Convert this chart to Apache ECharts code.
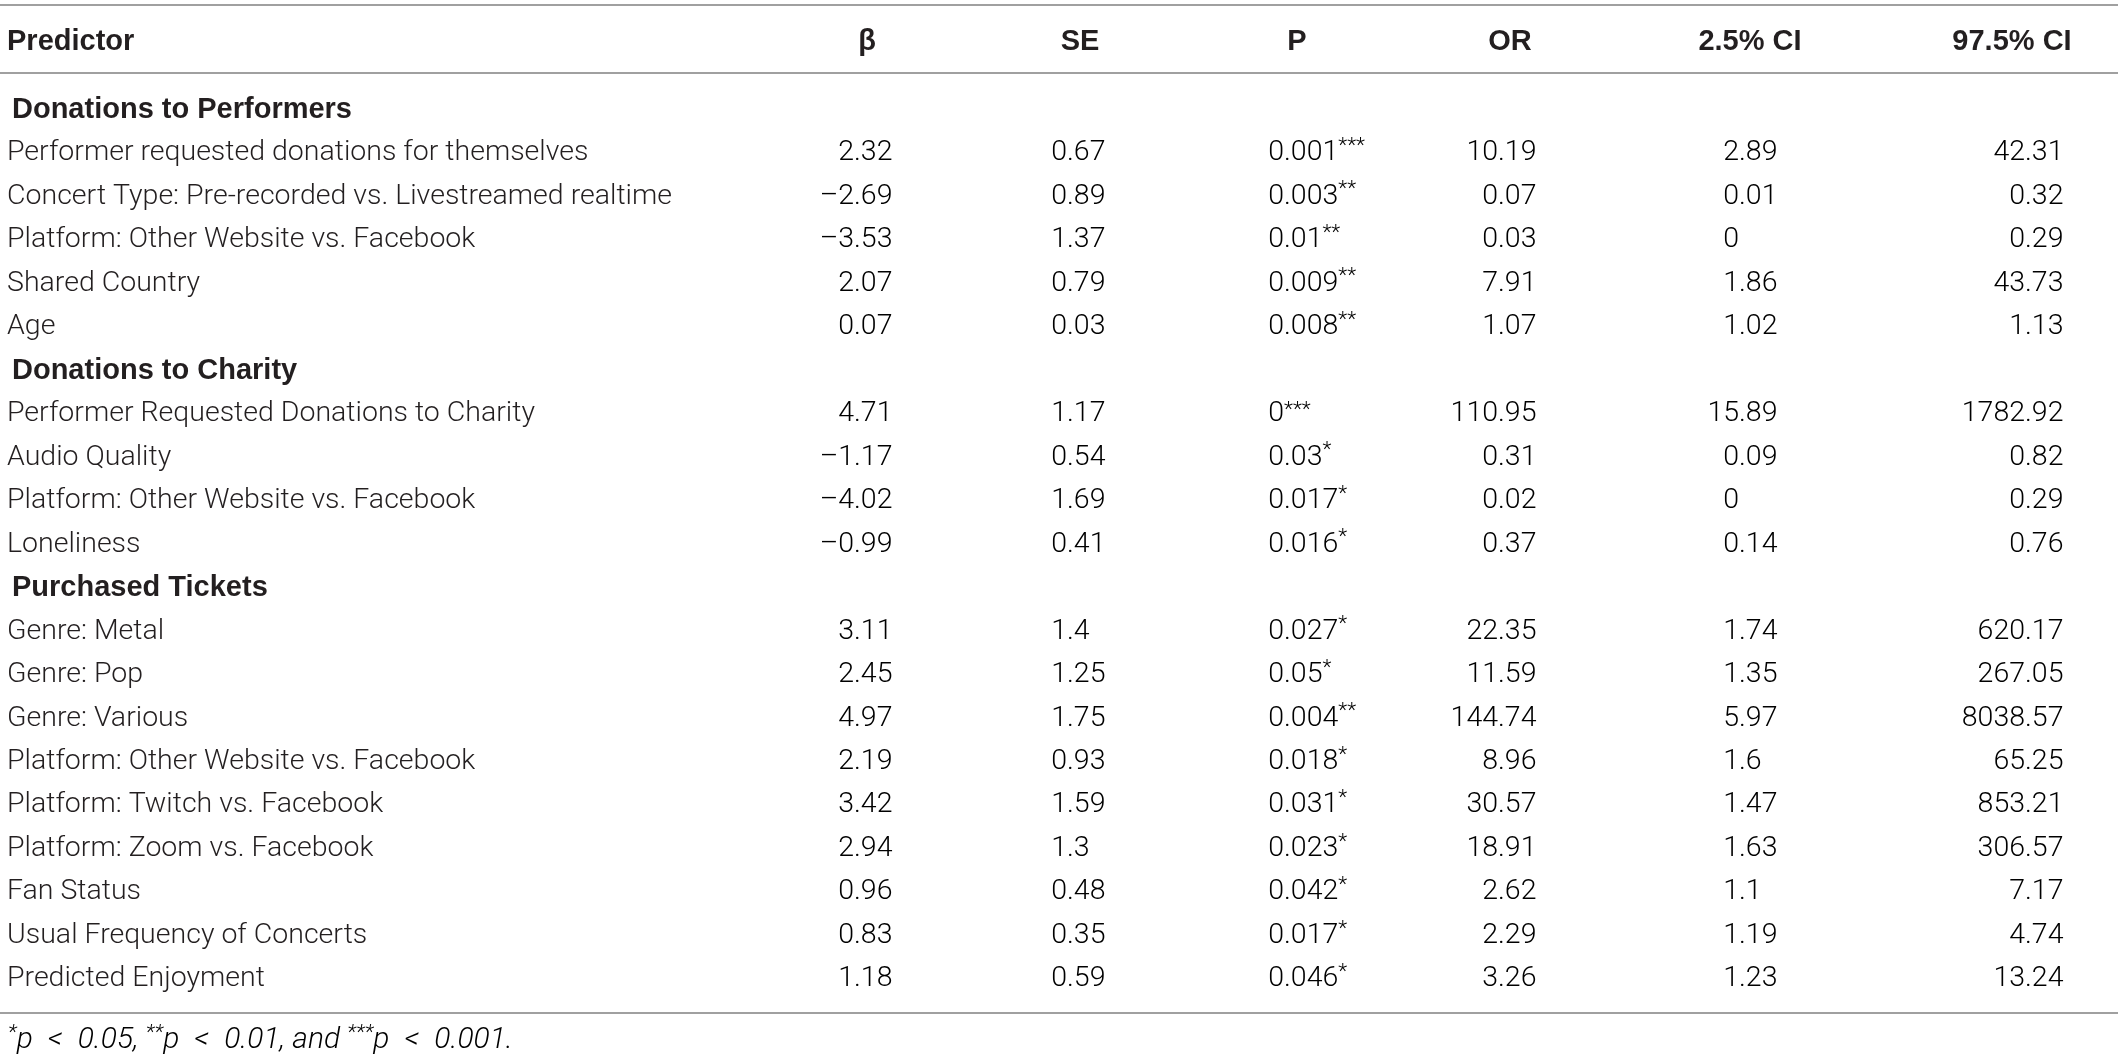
<!DOCTYPE html>
<html>
<head>
<meta charset="utf-8">
<title>Predictors of donations and ticket purchases</title>
<script src="https://cdn.jsdelivr.net/npm/echarts@6/dist/echarts.min.js"></script>
<style>
  html, body { margin: 0; padding: 0; background: #fff; }
  #main { width: 2118px; height: 1061px; }
</style>
</head>
<body>
<div id="main"></div>
<script>
// table data, one entry per row (null = section heading row)
var predictors = [
  'Donations to Performers',
  'Performer requested donations for themselves',
  'Concert Type: Pre-recorded vs. Livestreamed realtime',
  'Platform: Other Website vs. Facebook',
  'Shared Country',
  'Age',
  'Donations to Charity',
  'Performer Requested Donations to Charity',
  'Audio Quality',
  'Platform: Other Website vs. Facebook',
  'Loneliness',
  'Purchased Tickets',
  'Genre: Metal',
  'Genre: Pop',
  'Genre: Various',
  'Platform: Other Website vs. Facebook',
  'Platform: Twitch vs. Facebook',
  'Platform: Zoom vs. Facebook',
  'Fan Status',
  'Usual Frequency of Concerts',
  'Predicted Enjoyment'
];
var sectionRows = [0, 6, 11];
var beta = [null, 2.32, -2.69, -3.53, 2.07, 0.07, null, 4.71, -1.17, -4.02, -0.99, null, 3.11, 2.45, 4.97, 2.19, 3.42, 2.94, 0.96, 0.83, 1.18];
var se = [null, 0.67, 0.89, 1.37, 0.79, 0.03, null, 1.17, 0.54, 1.69, 0.41, null, 1.4, 1.25, 1.75, 0.93, 1.59, 1.3, 0.48, 0.35, 0.59];
var pValue = [null, 0.001, 0.003, 0.01, 0.009, 0.008, null, 0, 0.03, 0.017, 0.016, null, 0.027, 0.05, 0.004, 0.018, 0.031, 0.023, 0.042, 0.017, 0.046];
var pStars = [null, '***', '**', '**', '**', '**', null, '***', '*', '*', '*', null, '*', '*', '**', '*', '*', '*', '*', '*', '*'];
var oddsRatio = [null, 10.19, 0.07, 0.03, 7.91, 1.07, null, 110.95, 0.31, 0.02, 0.37, null, 22.35, 11.59, 144.74, 8.96, 30.57, 18.91, 2.62, 2.29, 3.26];
var ciLow = [null, 2.89, 0.01, 0, 1.86, 1.02, null, 15.89, 0.09, 0, 0.14, null, 1.74, 1.35, 5.97, 1.6, 1.47, 1.63, 1.1, 1.19, 1.23];
var ciHigh = [null, 42.31, 0.32, 0.29, 43.73, 1.13, null, 1782.92, 0.82, 0.29, 0.76, null, 620.17, 267.05, 8038.57, 65.25, 853.21, 306.57, 7.17, 4.74, 13.24];
var headers = ['Predictor', 'β', 'SE', 'P', 'OR', '2.5% CI', '97.5% CI'];

// layout (pixels on the hidden x axis)
var W = 2118;
var textLeft = 7, sectionLeft = 12;
var decimalAnchor = [854, 1067, 1284, 1498, 1739, 2025];
var headerCenter = [867, 1080, 1297, 1510, 1750, 2012];
var ink = '#231f20';
var ruleColor = '#a0a0a0';
var fontBody = 'Roboto, "Liberation Sans", sans-serif';
var fontBold = '"Liberation Sans", Arial, sans-serif';
var bodySize = 28.5;
var boldSize = 29;

var rich = {
  n: { fontFamily: fontBody, fontSize: bodySize, fontWeight: 300, color: ink, lineHeight: 34 },
  s: { fontFamily: fontBody, fontSize: 21, fontWeight: 300, color: ink, lineHeight: 27, verticalAlign: 'top' }
};

function fmt(v) {
  return v < 0 ? '\u2013' + String(-v) : String(v);
}

var valueRows = [];
for (var i = 0; i < predictors.length; i++) {
  if (sectionRows.indexOf(i) < 0) valueRows.push([i]);
}

// one custom series per numeric column, decimal-aligned
function numberColumn(c, values, stars) {
  return {
    type: 'custom',
    data: valueRows,
    encode: { y: 0 },
    renderItem: function (params, api) {
      var r = api.value(0);
      var y = api.coord([0, r])[1];
      var x = api.coord([decimalAnchor[c], r])[0];
      var s = fmt(values[r]);
      var k = s.indexOf('.');
      var intPart = k < 0 ? s : s.slice(0, k);
      var frac = k < 0 ? '' : s.slice(k);
      var right = (frac ? '{n|' + frac + '}' : '') + (stars && stars[r] ? '{s|' + stars[r] + '}' : '');
      var kids = [{
        type: 'text',
        style: { text: '{n|' + intPart + '}', x: x, y: y, align: 'right', verticalAlign: 'middle', rich: rich }
      }];
      if (right) {
        kids.push({
          type: 'text',
          style: { text: right, x: x, y: y, align: 'left', verticalAlign: 'middle', rich: rich }
        });
      }
      return { type: 'group', children: kids };
    }
  };
}

var allRows = predictors.map(function (p, i) { return [i]; });

var series = [{
  type: 'custom',
  data: allRows,
  encode: { y: 0 },
  renderItem: function (params, api) {
    var r = api.value(0);
    var isSection = sectionRows.indexOf(r) >= 0;
    var y = api.coord([0, r])[1];
    var x = api.coord([isSection ? sectionLeft : textLeft, r])[0];
    return {
      type: 'text',
      style: {
        text: predictors[r], x: x, y: y, align: 'left', verticalAlign: 'middle',
        fontFamily: isSection ? fontBold : fontBody,
        fontSize: isSection ? boldSize : bodySize,
        fontWeight: isSection ? 700 : 300, fill: ink
      }
    };
  }
},
  numberColumn(0, beta),
  numberColumn(1, se),
  numberColumn(2, pValue, pStars),
  numberColumn(3, oddsRatio),
  numberColumn(4, ciLow),
  numberColumn(5, ciHigh)
];

var sp = '\u2002';
var graphics = [
  { type: 'line', shape: { x1: 0, y1: 5, x2: W, y2: 5 }, style: { stroke: ruleColor, lineWidth: 2 } },
  { type: 'line', shape: { x1: 0, y1: 73, x2: W, y2: 73 }, style: { stroke: ruleColor, lineWidth: 2 } },
  { type: 'line', shape: { x1: 0, y1: 1013, x2: W, y2: 1013 }, style: { stroke: ruleColor, lineWidth: 2 } },
  {
    type: 'text', x: textLeft, y: 42,
    style: { text: headers[0], align: 'left', verticalAlign: 'middle', fontFamily: fontBold, fontSize: boldSize, fontWeight: 700, fill: ink }
  },
  {
    type: 'text', x: 8, y: 1040,
    style: {
      text: '{s|*}{t|p' + sp + '<' + sp + '0.05, }{s|**}{t|p' + sp + '<' + sp + '0.01, and }{s|***}{t|p' + sp + '<' + sp + '0.001.}',
      align: 'left', verticalAlign: 'middle',
      rich: {
        t: { fontFamily: fontBody, fontSize: 30, fontWeight: 300, fontStyle: 'italic', color: ink, lineHeight: 34 },
        s: { fontFamily: fontBody, fontSize: 21, fontWeight: 300, fontStyle: 'italic', color: ink, lineHeight: 25, verticalAlign: 'top' }
      }
    }
  }
];
for (var h = 1; h < headers.length; h++) {
  graphics.push({
    type: 'text', x: headerCenter[h - 1], y: 42,
    style: { text: headers[h], align: 'center', verticalAlign: 'middle', fontFamily: fontBold, fontSize: boldSize, fontWeight: 700, fill: ink }
  });
}

var chart = echarts.init(document.getElementById('main'), null, { renderer: 'canvas' });
chart.setOption({
  animation: false,
  backgroundColor: '#fff',
  grid: { left: 0, right: 0, top: 88, bottom: 60 },
  xAxis: { type: 'value', min: 0, max: W, show: false },
  yAxis: {
    type: 'category', inverse: true, show: false,
    data: predictors.map(function (p, i) { return String(i); })
  },
  series: series,
  graphic: graphics
});
</script>
</body>
</html>
